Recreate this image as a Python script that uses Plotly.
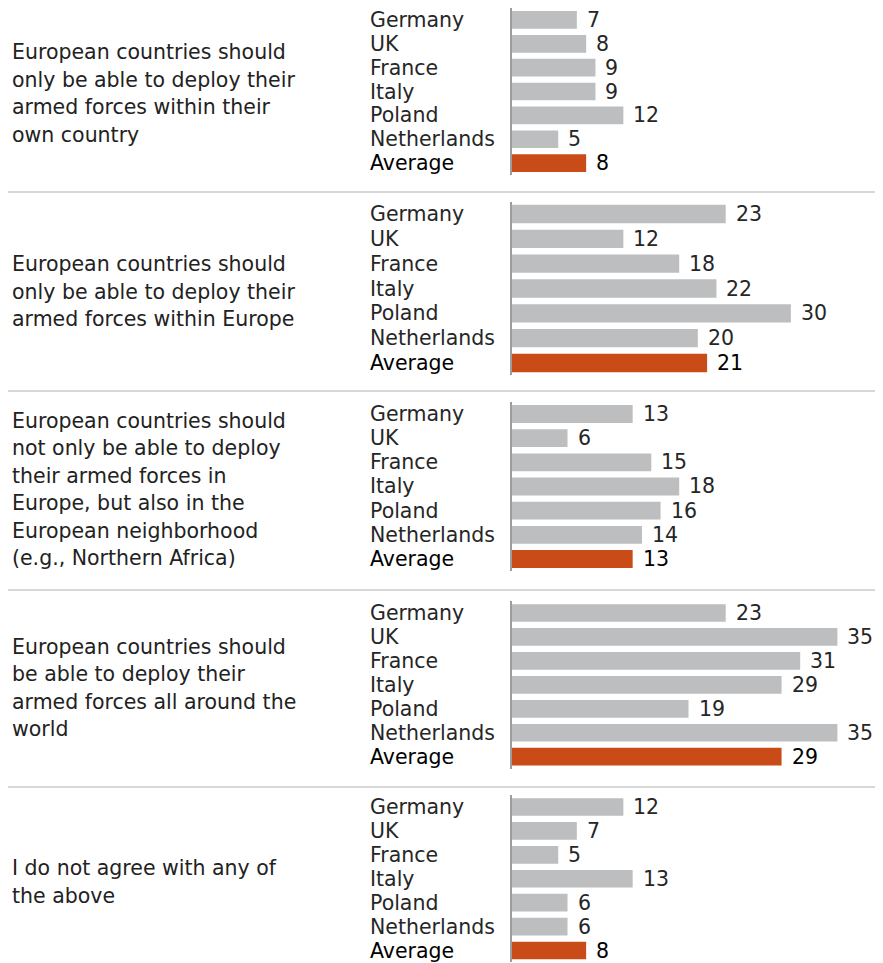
import plotly.graph_objects as go

# --- data -----------------------------------------------------------------
countries = ["Germany", "UK", "France", "Italy", "Poland", "Netherlands", "Average"]

statements = [
    ["European countries should", "only be able to deploy their",
     "armed forces within their", "own country"],
    ["European countries should", "only be able to deploy their",
     "armed forces within Europe"],
    ["European countries should", "not only be able to deploy",
     "their armed forces in", "Europe, but also in the",
     "European neighborhood", "(e.g., Northern Africa)"],
    ["European countries should", "be able to deploy their",
     "armed forces all around the", "world"],
    ["I do not agree with any of", "the above"],
]

own_country = [7, 8, 9, 9, 12, 5, 8]
within_europe = [23, 12, 18, 22, 30, 20, 21]
neighborhood = [13, 6, 15, 18, 16, 14, 13]
worldwide = [23, 35, 31, 29, 19, 35, 29]
none_of_above = [12, 7, 5, 13, 6, 6, 8]

panels = [own_country, within_europe, neighborhood, worldwide, none_of_above]

# --- layout constants (page pixels) ---------------------------------------
PAGE_W, PAGE_H = 883, 963
OFF = 8  # default body margin of the html page
W, H = PAGE_W - OFF, PAGE_H - OFF
FONT = "DejaVu Sans"
FS = 20.5
GREY = "#bdbec0"
ORANGE = "#c94b17"
X_START = 511.7
LABEL_X = 368
TEXT_X = 10
LINE_PITCH = 27.5
# centre of first and last bar row of each panel
row_spans = [(18, 163), (214, 363), (414, 559), (613, 756.7), (807, 950.5)]
separators = [192, 391, 590, 787]


def px_x(p):
    return (p - OFF) / W


def px_y(p):
    return 1 - (p - OFF) / H


def ax(kind, n):
    return kind if n == 1 else f"{kind}{n}"


fig = go.Figure()
annotations = []
shapes = []

for i, values in enumerate(panels):
    n = i + 1
    top, bottom = row_spans[i]
    pitch = (bottom - top) / 6
    colors = [GREY] * 6 + [ORANGE]
    fig.add_trace(
        go.Bar(
            x=values,
            y=countries,
            orientation="h",
            marker=dict(color=colors, line=dict(width=0)),
            xaxis=ax("x", n),
            yaxis=ax("y", n),
            hoverinfo="skip",
            showlegend=False,
        )
    )
    fig.layout[ax("xaxis", n)] = dict(
        domain=[px_x(X_START), 1.0],
        range=[0, 39.9],
        visible=False,
        anchor=ax("y", n),
    )
    fig.layout[ax("yaxis", n)] = dict(
        domain=[px_y(bottom + pitch / 2), min(1.0, px_y(top - pitch / 2))],
        type="category",
        categoryarray=countries,
        range=[6.5, -0.5],
        showticklabels=False,
        showgrid=False,
        zeroline=False,
        ticks="",
        showline=True,
        linecolor="#9d9d9f",
        linewidth=2,
        anchor=ax("x", n),
    )

    for c, v in zip(countries, values):
        col = "#000000" if c == "Average" else "#262626"
        annotations.append(dict(
            x=v, y=c, xref=ax("x", n), yref=ax("y", n),
            text=str(v), xanchor="left", yanchor="middle", xshift=8,
            showarrow=False, font=dict(family=FONT, size=FS, color=col),
        ))
        annotations.append(dict(
            x=px_x(LABEL_X), y=c, xref="paper", yref=ax("y", n),
            text=c, xanchor="left", yanchor="middle",
            showarrow=False, font=dict(family=FONT, size=FS, color=col),
        ))

    lines = statements[i]
    centre = (top + bottom) / 2 + 3
    first = centre - LINE_PITCH * (len(lines) - 1) / 2
    for k, line in enumerate(lines):
        annotations.append(dict(
            x=px_x(TEXT_X), y=px_y(first + k * LINE_PITCH), xref="paper", yref="paper",
            text=line, xanchor="left", yanchor="middle",
            showarrow=False, font=dict(family=FONT, size=FS, color="#222222"),
        ))

for s in separators:
    shapes.append(dict(
        type="line", xref="paper", yref="paper",
        x0=0, x1=px_x(878), y0=px_y(s), y1=px_y(s),
        line=dict(color="#cacaca", width=1.5),
    ))

fig.update_layout(
    width=W,
    height=H,
    margin=dict(l=0, r=0, t=0, b=0),
    paper_bgcolor="white",
    plot_bgcolor="white",
    bargap=0.26,
    annotations=annotations,
    shapes=shapes,
    font=dict(family=FONT, size=FS, color="#222222"),
)

fig.write_html("out.html")
